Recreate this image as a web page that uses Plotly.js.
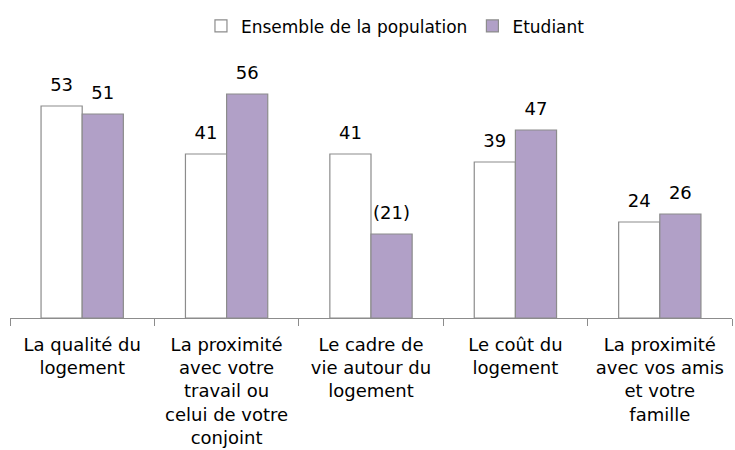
<!DOCTYPE html>
<html>
<head>
<meta charset="utf-8">
<script src="https://cdn.plot.ly/plotly-3.0.1.min.js"></script>
<style>body{margin:0;padding:0;background:#fff;}#chart{width:735px;height:450px;}</style>
</head>
<body>
<div id="chart"></div>
<script>
const categories = [
  "La qualité du<br>logement",
  "La proximité<br>avec votre<br>travail ou<br>celui de votre<br>conjoint",
  "Le cadre de<br>vie autour du<br>logement",
  "Le coût du<br>logement",
  "La proximité<br>avec vos amis<br>et votre<br>famille"
];
const seriesNames = ["Ensemble de la population", "Etudiant"];
const ensemble = [53, 41, 41, 39, 24];
const etudiant = [51, 56, 21, 47, 26];
const ensembleLabels = ["53", "41", "41", "39", "24"];
const etudiantLabels = ["51", "56", "(21)", "47", "26"];

const font = "DejaVu Sans, Verdana, sans-serif";
const colors = ["#ffffff", "#b1a0c7"];
const values = [ensemble, etudiant];
const labels = [ensembleLabels, etudiantLabels];

const traces = [];
for (let i = 0; i < 2; i++) {
  traces.push({
    type: "bar", name: seriesNames[i], x: categories, y: values[i],
    offsetgroup: "g" + i,
    marker: {color: colors[i], line: {color: "#8c8c8c", width: 1.2}},
    hoverinfo: "none"
  });
}
for (let i = 0; i < 2; i++) {
  traces.push({
    type: "scatter", mode: "markers+text", x: categories, y: values[i],
    offsetgroup: "g" + i, showlegend: false,
    text: labels[i], textposition: "top center",
    textfont: {family: font, size: 18, color: "#000"},
    marker: {size: 16, opacity: 0},
    cliponaxis: false, hoverinfo: "none"
  });
}
const layout = {
  width: 735, height: 450,
  margin: {l: 10, r: 3, t: 78, b: 132},
  paper_bgcolor: "#fff", plot_bgcolor: "#fff",
  font: {family: font, size: 18, color: "#000"},
  barmode: "group", bargap: 0.43, bargroupgap: 0,
  scattermode: "group", scattergap: 0.43,
  showlegend: true,
  legend: {orientation: "h", x: 0.2645, xanchor: "left", y: 1.29, yanchor: "top",
           font: {family: font, size: 17, color: "#000"}, itemwidth: 30, tracegroupgap: 0},
  xaxis: {
    showline: true, linecolor: "#8c8c8c", linewidth: 1,
    ticks: "outside", tickson: "boundaries", ticklen: 7, tickcolor: "#8c8c8c",
    ticklabelstandoff: 10,
    tickfont: {family: font, size: 18, color: "#000"},
    showgrid: false, zeroline: false, fixedrange: true
  },
  yaxis: {
    range: [0, 60], visible: false, showgrid: false, zeroline: false, fixedrange: true
  }
};
Plotly.newPlot("chart", traces, layout, {displayModeBar: false, staticPlot: true});
</script>
</body>
</html>
